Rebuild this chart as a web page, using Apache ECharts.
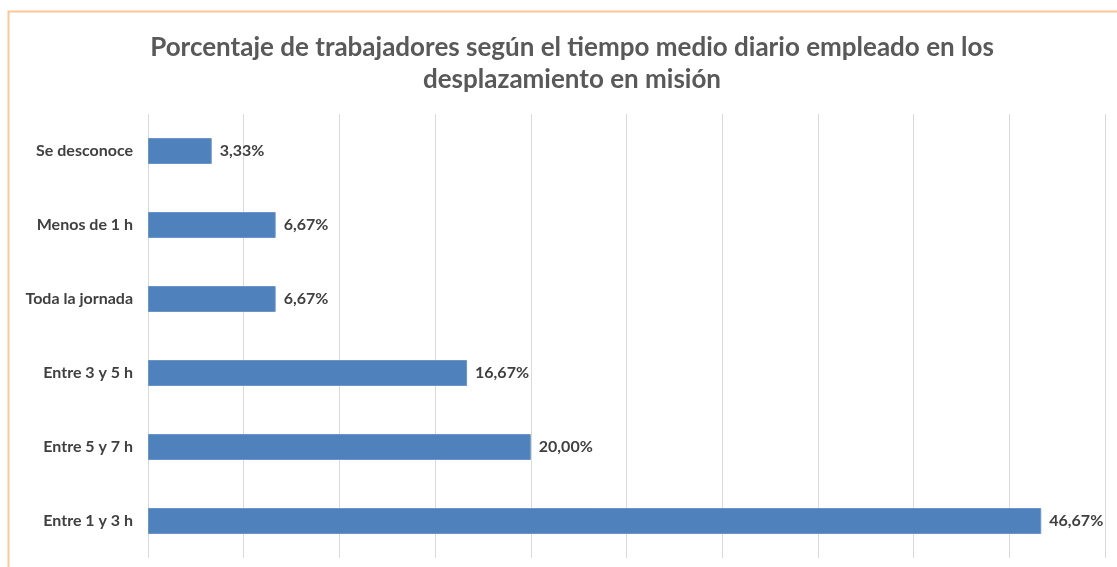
<!DOCTYPE html>
<html>
<head>
<meta charset="utf-8">
<script src="https://cdn.jsdelivr.net/npm/echarts@6/dist/echarts.min.js"></script>
<style>
    html, body { margin: 0; padding: 0; background: #ffffff; }
    #main { width: 1117px; height: 567px; }
</style>
</head>
<body>
<div id="main"></div>
<script>
    // categories top to bottom
    const categories = ['Se desconoce', 'Menos de 1 h', 'Toda la jornada', 'Entre 3 y 5 h', 'Entre 5 y 7 h', 'Entre 1 y 3 h'];
    const values = [3.33, 6.67, 6.67, 16.67, 20.00, 46.67];

    const chart = echarts.init(document.getElementById('main'));
    const font = 'Lato, "Open Sans", sans-serif';

    const option = {
        animation: false,
        title: {
            text: 'Porcentaje de trabajadores según el tiempo medio diario empleado en los\ndesplazamiento en misión',
            left: 567,
            textAlign: 'center',
            top: 27,
            textStyle: {
                fontFamily: font,
                fontSize: 26,
                fontWeight: 'bold',
                color: '#595959',
                lineHeight: 32
            }
        },
        graphic: [{
            type: 'rect',
            shape: { x: 8.5, y: 11.5, width: 1200, height: 700 },
            style: { fill: 'none', stroke: '#F9C79A', lineWidth: 2 },
            silent: true
        }],
        grid: { left: 148, right: 12, top: 114, bottom: 9 },
        xAxis: {
            type: 'value',
            min: 0,
            max: 50,
            interval: 5,
            axisLabel: { show: false },
            axisLine: { show: false },
            axisTick: { show: false },
            splitLine: { lineStyle: { color: '#D9D9D9', width: 1 } }
        },
        yAxis: {
            type: 'category',
            inverse: true,
            data: categories,
            axisLine: { show: false },
            axisTick: { show: false },
            axisLabel: {
                margin: 15,
                fontFamily: font,
                fontSize: 16,
                fontWeight: 'bold',
                color: '#404040'
            }
        },
        series: [{
            type: 'bar',
            data: values,
            barWidth: 26,
            itemStyle: { color: '#4F81BD', borderColor: '#6A95C9', borderWidth: 1 },
            label: {
                show: true,
                position: 'right',
                distance: 8,
                fontFamily: font,
                fontSize: 16,
                fontWeight: 'bold',
                color: '#404040',
                formatter: p => p.value.toFixed(2).replace('.', ',') + '%'
            }
        }]
    };

    chart.setOption(option);
</script>
</body>
</html>
